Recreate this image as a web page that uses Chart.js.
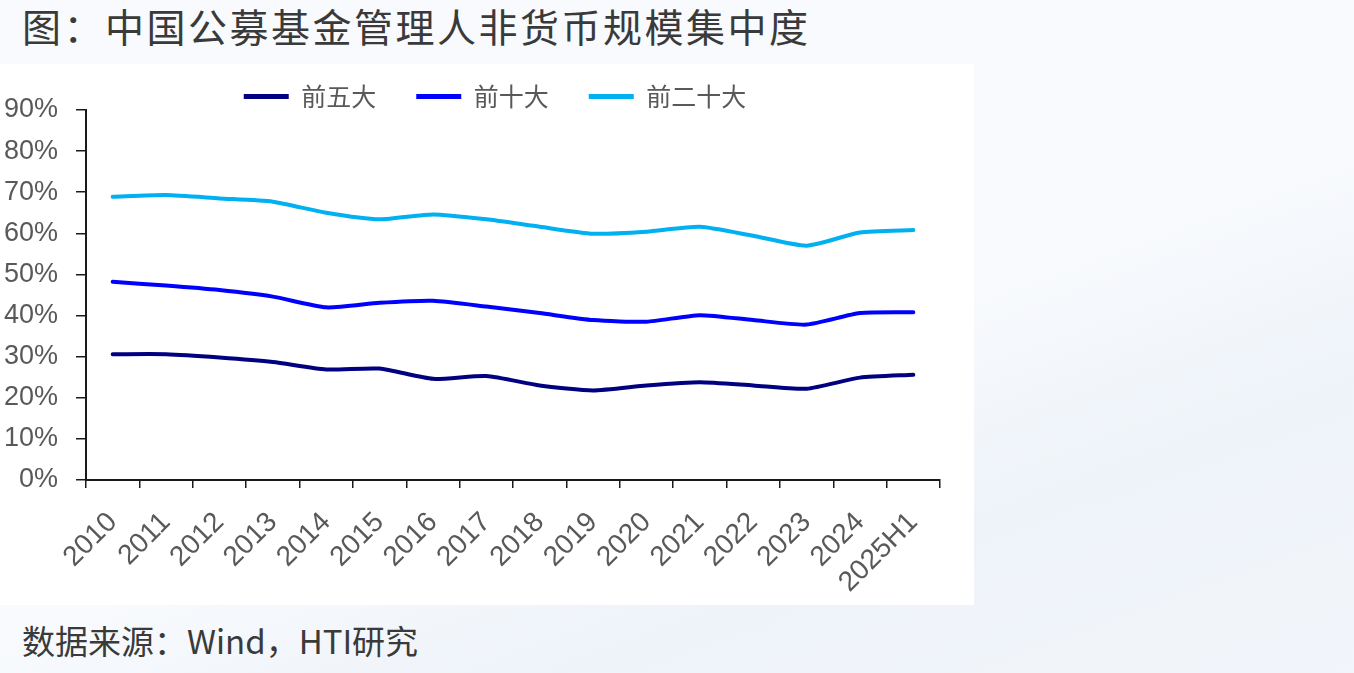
<!DOCTYPE html>
<html>
<head>
<meta charset="utf-8">
<script src="https://cdn.jsdelivr.net/npm/chart.js@4.4.1/dist/chart.umd.min.js"></script>
<style>
  html, body { margin: 0; padding: 0; }
  body {
    width: 1354px; height: 673px; position: relative; overflow: hidden;
    background: linear-gradient(160deg, #f8fafd 0%, #f8fafd 55%, #eef3f9 75%, #f2f5fa 100%);
    font-family: "Noto Sans CJK SC", "Noto Sans", sans-serif;
  }
  .title {
    position: absolute; left: 22px; top: -3px;
    font-size: 39px; color: #3a3a3a; letter-spacing: 2.5px;
  }
  .box {
    position: absolute; left: 0; top: 64px; width: 974px; height: 541px;
    background: #fff;
  }
  .source {
    position: absolute; left: 22px; top: 616px;
    font-size: 33px; color: #3a3a3a;
  }
</style>
</head>
<body>
<div class="title">图：中国公募基金管理人非货币规模集中度</div>
<div class="box"><canvas id="chart" width="974" height="541"></canvas></div>
<div class="source">数据来源：Wind，HTI研究</div>

<script>
// categories and series (share, %)
const years = ['2010', '2011', '2012', '2013', '2014', '2015', '2016', '2017',
  '2018', '2019', '2020', '2021', '2022', '2023', '2024', '2025H1'];
const top5 = [30.6, 30.6, 29.8, 28.7, 26.9, 27.1, 24.6, 25.3, 23.0, 21.8, 23.0, 23.8, 23.0, 22.2, 24.9, 25.6];
const top10 = [48.2, 47.3, 46.2, 44.6, 42.0, 43.1, 43.6, 42.2, 40.6, 38.9, 38.5, 40.1, 38.9, 37.8, 40.6, 40.8];
const top20 = [68.9, 69.3, 68.5, 67.7, 65.0, 63.4, 64.6, 63.4, 61.6, 59.9, 60.4, 61.6, 59.4, 57.0, 60.2, 60.8];

const axisColor = '#1a1a1a';
const tickColor = '#595959';

// legend sits close to the plot and a bit right of centre in the original
const legendFit = {
    id: 'legendFit',
    beforeLayout(chart) {
        const lg = chart.legend;
        if (lg && !lg._fixed) {
            const fit = lg.fit;
            lg.fit = function () { fit.call(this); this.height = 66; };
            lg._fixed = true;
        }
    },
    afterLayout(chart) {
        if (chart.legend) chart.legend.left = 16;
    }
};

new Chart(document.getElementById('chart'), {
    type: 'line',
    data: {
        labels: years,
        datasets: [
            { label: '前五大', data: top5, borderColor: '#000080', backgroundColor: '#000080' },
            { label: '前十大', data: top10, borderColor: '#0000ff', backgroundColor: '#0000ff' },
            { label: '前二十大', data: top20, borderColor: '#00b0f0', backgroundColor: '#00b0f0' }
        ]
    },
    plugins: [legendFit],
    options: {
        responsive: false,
        animation: false,
        layout: { padding: { left: 0, right: 0, top: -20, bottom: 0 } },
        elements: {
            line: { borderWidth: 4, tension: 0.2, borderCapStyle: 'round', borderJoinStyle: 'round' },
            point: { radius: 0, hoverRadius: 0 }
        },
        plugins: {
            tooltip: { enabled: false },
            legend: {
                position: 'top',
                labels: {
                    usePointStyle: true,
                    pointStyle: 'line',
                    pointStyleWidth: 45,
                    boxHeight: 5,
                    padding: 40,
                    color: tickColor,
                    font: { family: '"Noto Sans CJK SC"', size: 25 },
                    generateLabels(chart) {
                        return chart.data.datasets.map((ds, i) => ({
                            text: ds.label,
                            strokeStyle: ds.borderColor,
                            fillStyle: ds.borderColor,
                            lineWidth: 5,
                            pointStyle: 'line',
                            fontColor: tickColor,
                            datasetIndex: i
                        }));
                    }
                }
            }
        },
        scales: {
            x: {
                offset: true,
                grid: { offset: true, drawOnChartArea: false, drawTicks: true, tickLength: 8, color: axisColor, lineWidth: 1.5 },
                border: { color: axisColor, width: 2 },
                ticks: {
                    color: tickColor, minRotation: 45, maxRotation: 45, padding: 18,
                    font: { family: '"Liberation Sans", Arial, sans-serif', size: 28 }
                },
                afterFit(scale) { scale.height = 125; scale.paddingRight = 34; }
            },
            y: {
                min: 0, max: 90,
                grid: { drawOnChartArea: false, drawTicks: true, tickLength: 10, color: axisColor, lineWidth: 1.5 },
                border: { color: axisColor, width: 2 },
                ticks: {
                    stepSize: 10, color: tickColor, padding: 18,
                    font: { family: '"Liberation Sans", Arial, sans-serif', size: 27 },
                    callback: v => v + '%'
                },
                afterFit(scale) { scale.width = 86; }
            }
        }
    }
});
</script>
</body>
</html>
